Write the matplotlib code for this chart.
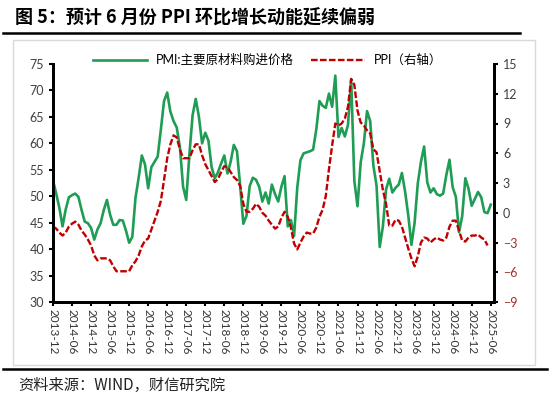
import pandas as pd
import matplotlib
matplotlib.use("Agg")
import matplotlib.pyplot as plt
from matplotlib.lines import Line2D
from matplotlib.patches import Rectangle

plt.rcParams['font.family'] = ['Lato', 'Noto Sans CJK SC', 'DejaVu Sans']

# --- data (monthly, 2013-12 .. 2025-06)
months = pd.date_range("2013-12-01", "2025-06-01", freq="MS")
tick_labels = [d.strftime("%Y-%m") for d in months[::6]]

pmi_price = [
    53.0,
    50.5, 47.8, 44.3, 47.5, 49.8, 50.2, 50.5, 49.9, 47.4, 45.2, 44.9, 44.0,
    41.8, 43.7, 44.9, 47.4, 49.3, 46.5, 44.6, 44.6, 45.5, 45.4, 43.5, 41.2,
    42.3, 49.7, 53.5, 57.7, 56.0, 51.5, 55.5, 56.5, 57.5, 62.6, 68.0, 69.6,
    66.0, 64.2, 63.0, 59.3, 51.8, 49.3, 57.9, 65.3, 68.4, 65.0, 60.0, 62.0,
    60.5, 55.5, 53.4, 54.5, 56.2, 57.7, 54.3, 56.5, 59.7, 58.5, 52.0, 44.8,
    46.3, 51.9, 53.5, 53.1, 51.8, 49.0, 50.7, 48.6, 52.2, 50.4, 49.0, 51.8,
    53.8, 44.3, 45.5, 42.5, 51.6, 56.8, 58.1, 58.3, 58.5, 58.8, 62.6, 68.0,
    67.1, 66.7, 69.4, 66.9, 72.8, 61.2, 62.9, 61.3, 63.5, 72.1, 52.9, 48.1,
    56.4, 60.0, 66.1, 64.2, 55.8, 52.0, 40.4, 44.3, 51.3, 53.3, 50.7, 51.6,
    52.2, 54.4, 50.9, 46.4, 40.8, 45.0, 52.4, 56.5, 59.4, 52.6, 50.7, 51.5,
    50.4, 50.1, 50.5, 54.0, 56.9, 51.7, 49.9, 43.2, 46.2, 53.4, 51.4, 48.2,
    49.5, 50.8, 49.8, 47.0, 46.8, 48.4,
]

ppi_yoy = [
    -1.4,
    -1.6, -2.0, -2.3, -2.0, -1.4, -1.1, -0.9, -1.2, -1.8, -2.2, -2.7, -3.3,
    -4.3, -4.8, -4.6, -4.6, -4.6, -4.8, -5.4, -5.9, -5.9, -5.9, -5.9, -5.9,
    -5.3, -4.9, -4.3, -3.4, -2.8, -2.6, -1.7, -0.8, 0.1, 1.2, 3.3, 5.5,
    6.9, 7.8, 7.6, 6.4, 5.5, 5.5, 5.5, 6.3, 6.9, 6.9, 5.8, 4.9,
    4.3, 3.7, 3.1, 3.4, 4.1, 4.7, 4.6, 4.1, 3.6, 3.3, 2.7, 0.9,
    0.1, 0.1, 0.4, 0.9, 0.6, 0.0, -0.3, -0.8, -1.2, -1.6, -1.4, -0.5,
    0.1, -0.4, -1.5, -3.1, -3.7, -3.0, -2.4, -2.0, -2.1, -2.1, -1.5, -0.4,
    0.3, 1.7, 4.4, 6.8, 9.0, 8.8, 9.0, 9.5, 10.7, 13.5, 12.9, 10.3,
    9.1, 8.8, 8.3, 8.0, 6.4, 6.1, 4.2, 2.3, 0.9, -1.3, -1.3, -0.7,
    -0.8, -1.4, -2.5, -3.6, -4.6, -5.4, -4.4, -3.0, -2.5, -2.6, -3.0, -2.7,
    -2.5, -2.7, -2.8, -2.5, -1.4, -0.8, -0.8, -1.8, -2.8, -2.9, -2.5, -2.3,
    -2.3, -2.2, -2.5, -2.7, -3.3,
]

GREEN = "#1f9d55"
RED = "#c00000"

fig = plt.figure(figsize=(5.5, 4.0), dpi=100)

# light frame around chart area
fig.patches.append(Rectangle((0.024, 0.0875), 0.949, 0.8125, transform=fig.transFigure,
                             fill=False, edgecolor="#d9d9d9", linewidth=1.0))

ax = fig.add_axes([0.0964, 0.245, 0.8016, 0.595])
ax2 = ax.twinx()

x_pmi = range(len(pmi_price))
x_ppi = range(len(ppi_yoy))
ax.plot(x_pmi, pmi_price, color=GREEN, lw=1.9, zorder=3)
ax2.plot(x_ppi, ppi_yoy, color=RED, lw=1.7, linestyle=(0, (2.8, 1.0)), zorder=2)

ax.set_xlim(0, len(months))
ax.set_ylim(30, 75)
ax.set_yticks(range(30, 76, 5))
ax2.set_ylim(-9, 15)
ax2.set_yticks(range(-9, 16, 3))

ax.set_xticks(range(0, len(months), 6))
ax.set_xticklabels(tick_labels, rotation=-90, fontsize=8.5, color="#333333")
ax.tick_params(axis="y", labelsize=9, labelcolor="#404040", length=3, width=1.5, direction="out")
ax.tick_params(axis="x", length=3, width=1.5, direction="out", pad=2)
ax2.tick_params(axis="y", labelsize=9, length=3, width=1.5, direction="out")
for lab, v in zip(ax2.get_yticklabels(), range(-9, 16, 3)):
    lab.set_color("#a03030" if v < 0 else "#404040")

for a in (ax, ax2):
    a.spines["top"].set_visible(False)
    for s in ("left", "right", "bottom"):
        a.spines[s].set_linewidth(2.0)
        a.spines[s].set_color("black")

handles = [Line2D([], [], color=GREEN, lw=1.9),
           Line2D([], [], color=RED, lw=1.7, linestyle=(0, (2.8, 1.0)))]
fig.legend(handles, ["PMI:主要原材料购进价格", "PPI（右轴）"], loc="center",
           bbox_to_anchor=(0.487, 0.85), ncol=2, frameon=False,
           handlelength=4.3, handletextpad=0.7, columnspacing=1.4,
           prop={"family": ["Lato", "Noto Sans CJK SC"], "size": 9})

# title and rules
fig.text(0.027, 0.955, "图 5：预计 6 月份 PPI 环比增长动能延续偏弱", fontsize=13,
         fontweight="bold", family=["Noto Sans CJK SC", "DejaVu Sans"], va="center", ha="left")
fig.add_artist(Line2D([0.005, 0.945], [0.9175, 0.9175], transform=fig.transFigure,
                      color="black", lw=1.8))
fig.add_artist(Line2D([0.005, 0.995], [0.0775, 0.0775], transform=fig.transFigure,
                      color="black", lw=1.8))
fig.text(0.033, 0.037, "资料来源：WIND，财信研究院", fontsize=11, style="italic",
         family=["Noto Sans CJK SC", "DejaVu Sans"], va="center", ha="left", color="#222222")

fig.savefig("out.png", dpi=100)
